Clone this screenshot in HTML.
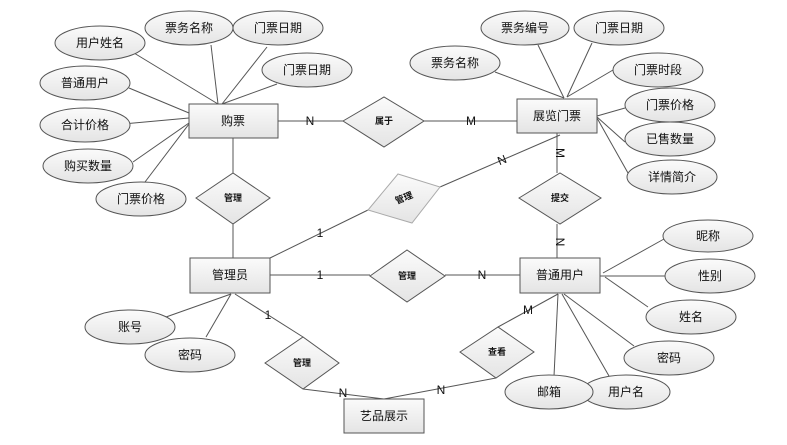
<!DOCTYPE html>
<html><head><meta charset="utf-8"><style>
html,body{margin:0;padding:0;background:#fff}
svg{display:block}
text{font-family:"Liberation Sans","Noto Sans CJK SC",sans-serif;font-size:12px;fill:#111;text-anchor:middle;dominant-baseline:central}
.s{font-size:9px;font-weight:bold}
</style></head><body>
<svg width="787" height="445" viewBox="0 0 787 445" xmlns="http://www.w3.org/2000/svg">
<defs>
<linearGradient id="g" x1="0" y1="0" x2="0" y2="1"><stop offset="0" stop-color="#fbfbfb"/><stop offset="1" stop-color="#e4e4e4"/></linearGradient>
</defs>
<g stroke="#555" stroke-width="1" fill="none">
<!-- 购票 attrs -->
<line x1="134" y1="53" x2="218" y2="104"/>
<line x1="211" y1="45" x2="218" y2="104"/>
<line x1="267" y1="47" x2="222" y2="104"/>
<line x1="277" y1="84" x2="222" y2="104"/>
<line x1="129" y1="88" x2="189" y2="113"/>
<line x1="123" y1="124" x2="189" y2="118"/>
<line x1="133" y1="162" x2="189" y2="123"/>
<line x1="145" y1="182" x2="189" y2="124"/>
<line x1="278" y1="121" x2="343" y2="121"/>
<line x1="424" y1="121" x2="517" y2="121"/>
<line x1="233" y1="138" x2="233" y2="173"/>
<line x1="233" y1="224" x2="233" y2="258"/>
<!-- 展览门票 attrs -->
<line x1="495" y1="72" x2="564" y2="98"/>
<line x1="538" y1="45" x2="564" y2="98"/>
<line x1="592" y1="43" x2="567" y2="97"/>
<line x1="613" y1="70" x2="567" y2="97"/>
<line x1="625" y1="108" x2="597" y2="116"/>
<line x1="625" y1="142" x2="597" y2="117"/>
<line x1="628" y1="173" x2="597" y2="118"/>
<line x1="560" y1="135" x2="440" y2="187"/>
<line x1="368" y1="210" x2="270" y2="258"/>
<line x1="557" y1="133" x2="557" y2="173"/>
<line x1="557" y1="224" x2="557" y2="258"/>
<!-- middle -->
<line x1="270" y1="275" x2="370" y2="275"/>
<line x1="445" y1="275" x2="520" y2="275"/>
<!-- 普通用户 attrs -->
<line x1="664" y1="239" x2="603" y2="273"/>
<line x1="666" y1="276" x2="600" y2="276"/>
<line x1="648" y1="307" x2="605" y2="277"/>
<line x1="634" y1="346" x2="564" y2="294"/>
<line x1="609" y1="376" x2="562" y2="294"/>
<line x1="554" y1="376" x2="558" y2="294"/>
<line x1="498" y1="327" x2="558" y2="294"/>
<line x1="496" y1="378" x2="384" y2="399"/>
<line x1="235" y1="294" x2="303" y2="337"/>
<line x1="303" y1="389" x2="384" y2="399"/>
<line x1="166" y1="317" x2="231" y2="294"/>
<line x1="206" y1="337" x2="231" y2="294"/>
</g>
<g stroke="#555" stroke-width="1" fill="url(#g)">
<ellipse cx="100" cy="43" rx="45" ry="17"/>
<ellipse cx="189" cy="28" rx="44" ry="17"/>
<ellipse cx="278" cy="28" rx="45" ry="17"/>
<ellipse cx="307" cy="70" rx="45" ry="17"/>
<ellipse cx="85" cy="83" rx="45" ry="17"/>
<ellipse cx="85" cy="125" rx="45" ry="17"/>
<ellipse cx="88" cy="166" rx="45" ry="17"/>
<ellipse cx="141" cy="199" rx="45" ry="17"/>
<ellipse cx="525" cy="28" rx="44" ry="17"/>
<ellipse cx="619" cy="28" rx="45" ry="17"/>
<ellipse cx="455" cy="63" rx="45" ry="17"/>
<ellipse cx="658" cy="70" rx="45" ry="17"/>
<ellipse cx="670" cy="105" rx="45" ry="17"/>
<ellipse cx="670" cy="139" rx="45" ry="17"/>
<ellipse cx="672" cy="177" rx="45" ry="17"/>
<ellipse cx="708" cy="236" rx="45" ry="16"/>
<ellipse cx="710" cy="276" rx="45" ry="17"/>
<ellipse cx="691" cy="317" rx="45" ry="17"/>
<ellipse cx="669" cy="358" rx="45" ry="17"/>
<ellipse cx="626" cy="392" rx="44" ry="17"/>
<ellipse cx="549" cy="392" rx="44" ry="17"/>
<ellipse cx="130" cy="327" rx="45" ry="17"/>
<ellipse cx="190" cy="355" rx="45" ry="17"/>
<rect x="189" y="104" width="89" height="34"/>
<rect x="517" y="99" width="80" height="34"/>
<rect x="190" y="258" width="80" height="35"/>
<rect x="520" y="258" width="80" height="35"/>
<rect x="344" y="399" width="80" height="34"/>
<polygon points="343,121 384,97 424,121 384,147"/>
<polygon points="196,198 233,173 270,198 233,224"/>
<polygon points="519,198 560,173 601,198 560,224"/>
<polygon points="370,276 407,250 445,276 407,302"/>
<polygon points="460,352 498,327 534,352 496,378"/>
<polygon points="265,363 303,337 339,363 303,389"/>
<polygon points="398,174 440,187 412,223 368,210" stroke="#aaa"/>
</g>
<text x="100" y="43">用户姓名</text>
<text x="189" y="28">票务名称</text>
<text x="278" y="28">门票日期</text>
<text x="307" y="70">门票日期</text>
<text x="85" y="83">普通用户</text>
<text x="85" y="125">合计价格</text>
<text x="88" y="166">购买数量</text>
<text x="141" y="199">门票价格</text>
<text x="525" y="28">票务编号</text>
<text x="619" y="28">门票日期</text>
<text x="455" y="63">票务名称</text>
<text x="658" y="70">门票时段</text>
<text x="670" y="105">门票价格</text>
<text x="670" y="139">已售数量</text>
<text x="672" y="177">详情简介</text>
<text x="708" y="236">昵称</text>
<text x="710" y="276">性别</text>
<text x="691" y="317">姓名</text>
<text x="669" y="358">密码</text>
<text x="626" y="392">用户名</text>
<text x="549" y="392">邮箱</text>
<text x="130" y="327">账号</text>
<text x="190" y="355">密码</text>
<text x="233" y="121">购票</text>
<text x="557" y="116">展览门票</text>
<text x="230" y="275">管理员</text>
<text x="560" y="275">普通用户</text>
<text x="384" y="416">艺品展示</text>
<text class="s" x="384" y="121">属于</text>
<text class="s" x="233" y="198">管理</text>
<text class="s" x="560" y="198">提交</text>
<text class="s" x="407" y="276">管理</text>
<text class="s" x="497" y="352">查看</text>
<text class="s" x="302" y="363">管理</text>
<text class="s" x="404" y="198" transform="rotate(-22 404 198)">管理</text>
<text x="310" y="121">N</text>
<text x="471" y="121">M</text>
<text x="502" y="160" transform="rotate(-22 502 160)">N</text>
<text x="560" y="153" transform="rotate(90 560 153)">M</text>
<text x="560" y="242" transform="rotate(90 560 242)">N</text>
<text x="320" y="233" font-size="10">1</text>
<text x="320" y="275">1</text>
<text x="482" y="275">N</text>
<text x="268" y="315" font-size="10">1</text>
<text x="343" y="393" font-size="10">N</text>
<text x="441" y="390" font-size="10">N</text>
<text x="528" y="310" font-size="10">M</text>
</svg>
</body></html>
